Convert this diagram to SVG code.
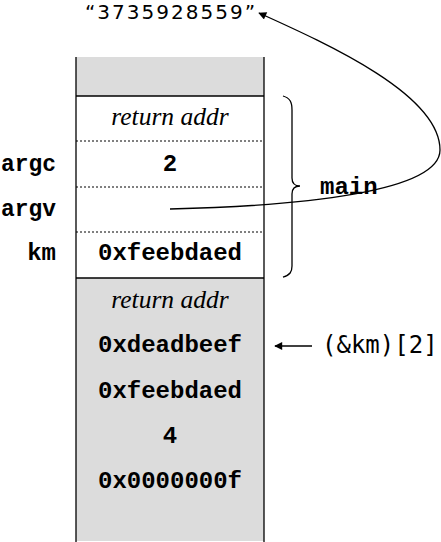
<svg xmlns="http://www.w3.org/2000/svg" width="441" height="542" viewBox="0 0 441 542">
<style>
.mono{font-family:"Liberation Mono","DejaVu Sans Mono",monospace;font-weight:bold;font-size:24px;fill:#000}
.ital{font-family:"Liberation Serif","DejaVu Serif",serif;font-style:italic;font-size:25.5px;fill:#000}
.sans{font-family:"DejaVu Sans","Noto Sans",sans-serif;font-size:20px;fill:#000}
.smono{font-family:"DejaVu Sans Mono",monospace;font-size:24px;fill:#000}
.gray{fill:#dcdcdc;stroke:none}
.line{stroke:#000;stroke-width:1.3;fill:none}
.dot{stroke:#000;stroke-width:1;stroke-dasharray:2,2;fill:none}
</style>
<defs>
<marker id="ah" viewBox="0 0 10 10" refX="9" refY="5" markerWidth="10" markerHeight="8" markerUnits="userSpaceOnUse" orient="auto">
<path d="M0,0 L10,5 L0,10 z" fill="#000"/>
</marker>
</defs>
<g id="stack">
<rect class="gray" x="76" y="57" width="188" height="39"/>
<rect class="gray" x="76" y="278" width="188" height="263"/>
<line class="line" x1="76" y1="57" x2="76" y2="542"/>
<line class="line" x1="264" y1="57" x2="264" y2="542"/>
<line class="line" x1="76" y1="96" x2="264" y2="96"/>
<line class="line" x1="76" y1="278" x2="264" y2="278"/>
<line class="dot" x1="76" y1="141" x2="264" y2="141"/>
<line class="dot" x1="76" y1="187" x2="264" y2="187"/>
<line class="dot" x1="76" y1="232" x2="264" y2="232"/>
</g>
<g id="string"><text class="sans" x="170" y="19" text-anchor="middle" textLength="170">“3735928559”</text></g>
<g id="main-frame">
<text class="ital" x="170" y="125" text-anchor="middle">return addr</text>
<text class="mono" x="170" y="171" text-anchor="middle">2</text>
<text class="mono" x="170" y="260" text-anchor="middle">0xfeebdaed</text>
<text class="mono" x="1" y="171" textLength="55" lengthAdjust="spacingAndGlyphs">argc</text>
<text class="mono" x="1" y="216" textLength="55" lengthAdjust="spacingAndGlyphs">argv</text>
<text class="mono" x="56" y="260" text-anchor="end">km</text>
</g>
<g id="lower-frame">
<text class="ital" x="170" y="308" text-anchor="middle">return addr</text>
<text class="mono" x="170" y="352" text-anchor="middle">0xdeadbeef</text>
<text class="mono" x="170" y="398" text-anchor="middle">0xfeebdaed</text>
<text class="mono" x="170" y="443" text-anchor="middle">4</text>
<text class="mono" x="170" y="488" text-anchor="middle">0x0000000f</text>
</g>
<g id="brace">
<path class="line" d="M283,96 C290,98 292,102 292,110 L292,178 C292,183 295,186 300,186 C295,186 292,189 292,194 L292,266 C292,272 290,275 283,277"/>
<text class="mono" x="320" y="194">main</text>
</g>
<g id="km2"><text class="smono" x="322" y="353">(&amp;km)[2]</text></g>
<g id="connectors">
<path class="line" d="M170,209 C300,206 440,192 440,150 C440,95 330,45 259,13" marker-end="url(#ah)"/>
<line class="line" x1="312" y1="346" x2="275" y2="346" marker-end="url(#ah)"/>
</g>
</svg>
